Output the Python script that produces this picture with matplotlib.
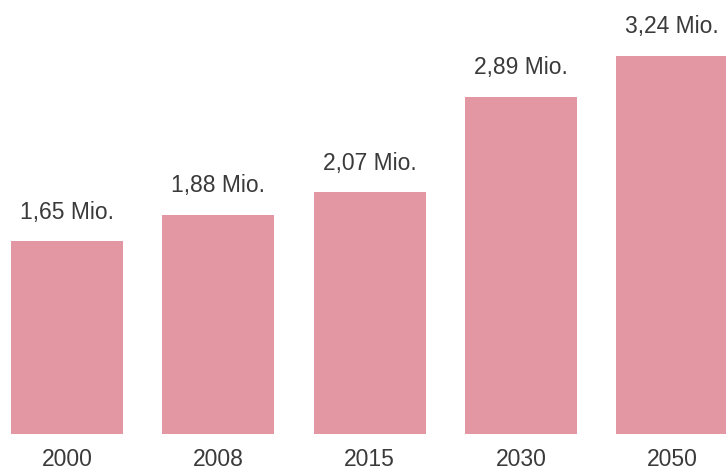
import matplotlib.pyplot as plt

years = ['2000', '2008', '2015', '2030', '2050']
values = [1.65, 1.88, 2.07, 2.89, 3.24]
labels = ['1,65 Mio.', '1,88 Mio.', '2,07 Mio.', '2,89 Mio.', '3,24 Mio.']

plt.rcParams['font.family'] = ['Liberation Sans', 'DejaVu Sans']

fig = plt.figure(figsize=(7.26, 4.70), dpi=100)
ax = fig.add_axes([0, 36 / 470, 1, 434 / 470])

x = range(len(years))
bars = ax.bar(x, values, width=0.74, color='#e297a3')

for b, lab in zip(bars, labels):
    ax.annotate(lab, (b.get_x() + b.get_width() / 2, b.get_height()),
                xytext=(0, 16.5), textcoords='offset points',
                ha='center', va='baseline', fontsize=16.5, color='#3a3a3a')

ax.set_xlim(-0.443, 4.356)
ax.set_ylim(0, 3.719)
ax.set_xticks(list(x))
ax.set_xticklabels(years, fontsize=16.5, color='#3a3a3a')
ax.tick_params(axis='x', length=0, pad=10)
ax.set_yticks([])
for s in ax.spines.values():
    s.set_visible(False)

fig.savefig('out.png', dpi=100)
